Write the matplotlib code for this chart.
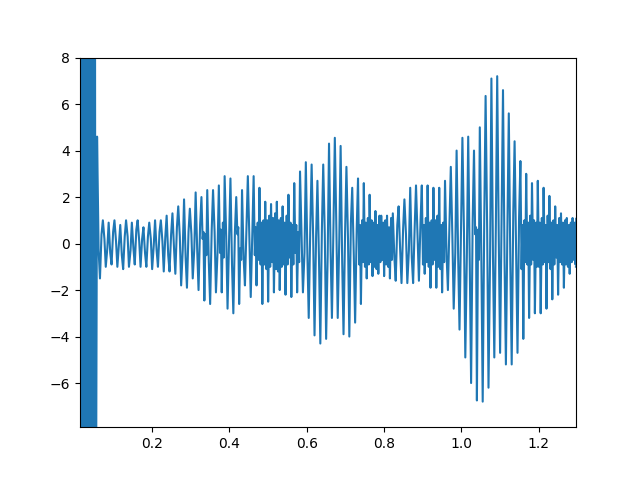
import numpy as np
import matplotlib.pyplot as plt

# start-up burst (goes far off the y range)
burst = [30, -28, 34, -31, 26, -35, 29, -27, 33, -30, 25, -32,
         31, -29, 27, -33, 30, -26, 28, -31, 24, -27, 22, -20]

# one entry per main oscillation cycle
peaks = [4.6, 1.0, 0.9, 1.0, 0.8, 1.0, 0.9, 1.0, 0.7, 0.9, 1.0, 1.0, 1.2,
         1.3, 1.6, 1.9, 1.5, 2.2, 2.0, 2.3, 2.3, 2.5, 2.9, 2.8, 2.0, 2.3,
         2.9, 2.9, 2.4, 1.8, 1.7, 1.8, 1.6, 2.1, 2.6, 3.1, 3.5, 3.4, 2.7,
         3.4, 4.3, 4.55, 4.2, 3.3, 2.4, 2.8, 2.6, 2.1, 1.4, 1.2, 1.2, 1.3,
         1.6, 1.9, 2.4, 2.5, 2.5, 2.5, 2.4, 2.4, 2.7, 3.3, 4.0, 4.55, 4.6,
         4.0, 5.0, 6.35, 7.1, 7.2, 6.6, 5.6, 4.4, 3.55, 3.0, 2.6, 2.7, 2.4,
         2.05, 1.6, 1.3, 1.1, 1.1]
troughs = [-1.5, -1.0, -0.9, -1.0, -1.1, -1.0, -0.9, -1.0, -1.0, -1.1, -1.0,
           -1.2, -1.2, -1.3, -1.8, -1.9, -1.5, -2.0, -2.45, -2.6, -2.1, -2.1,
           -2.8, -3.0, -2.6, -1.8, -2.3, -1.8, -2.6, -2.5, -2.1, -2.0, -2.2,
           -2.3, -2.1, -2.1, -3.2, -3.95, -4.3, -4.1, -3.2, -3.2, -3.9, -4.0,
           -3.4, -2.6, -1.5, -1.4, -1.3, -1.4, -1.5, -1.6, -1.7, -1.7, -1.7,
           -1.6, -1.3, -1.9, -1.9, -2.1, -2.0, -2.8, -3.7, -4.9, -6.0, -6.75,
           -6.8, -6.2, -4.9, -4.7, -5.2, -5.2, -4.7, -4.1, -3.2, -3.0, -3.0,
           -2.8, -2.4, -2.2, -1.9, -1.3, -0.9]
# small in-between wiggles, one pair per cycle (after peak, after trough)
wiggle_lo = [-0.3, 0.2, -0.4, 0.1, -0.5, 0.3, -0.2, 0.1, -0.4, 0.2, -0.3, 0.1,
             -0.5, -0.2, 0.3, -0.6, 0.4, -0.3, 0.2, -0.8, 0.5, -0.4, 0.3, -0.9,
             0.4, -0.6, 0.2, -0.5, -0.9, -1.1, -0.8, -1.2, -0.9, -0.6, -0.4,
             0.3, -0.5, 0.2, -0.7, 0.4, -0.3, 0.6, -0.8, 0.2, -0.5, -0.9, -1.0,
             -0.8, -1.1, -0.7, -1.0, -0.6, -0.3, 0.4, -0.6, 0.3, -0.9, -1.0,
             -0.7, -1.1, -0.5, 0.3, -0.6, 0.5, -0.9, 0.4, -0.7, 0.6, -0.5, 0.2,
             -0.8, -1.0, -0.6, -1.1, -0.9, -0.7, -1.0, -0.8, -1.1, -0.6, -0.9,
             -1.0, -0.7]
wiggle_hi = [0.4, -0.2, 0.5, 0.0, 0.3, -0.3, 0.6, 0.2, 0.3, -0.1, 0.5, 0.3,
             0.4, 0.7, -0.3, 0.5, -0.2, 0.8, 0.4, 0.6, -0.4, 0.9, 0.3, 0.5,
             -0.2, 0.7, 0.4, 0.9, 1.0, 1.2, 1.3, 1.1, 1.2, 0.8, 0.5, -0.4, 0.7,
             0.3, 0.6, -0.5, 0.8, 0.2, 0.5, 0.9, 0.6, 1.0, 1.1, 0.9, 1.2, 1.0,
             1.1, 0.8, 0.6, -0.3, 0.7, 0.9, 1.1, 1.0, 1.2, 0.9, 0.8, -0.4, 0.9,
             -0.5, 1.0, 0.6, 1.1, -0.6, 0.8, 1.2, 0.9, 1.3, 1.1, 1.0, 1.2, 0.9,
             1.1, 1.2, 1.0, 1.1, 1.0, 0.9, 1.1]
# extra fast wiggle inside a cycle (0 = none), where the band near zero is dense
dense = [0, 0, 0, 0, 0, 0, 0, 0, 0, 0, 0, 0, 0,
         0, 0, 0, 0, 0, 0.5, 0, 0, 0.6, 0, 0, 0.7, 0,
         0, 0.7, 0.9, 1.0, 1.1, 1.0, 0.9, 0.9, 0.8, 0, 0, 0, 0,
         0, 0, 0, 0, 0, 0, 0.8, 0.9, 1.0, 0.8, 0.9, 0.7, 0,
         0, 0, 0, 0, 0.8, 0.9, 1.0, 0.8, 0, 0, 0, 0, 0,
         0.7, 0, 0, 0, 0, 0, 0, 0, 0.8, 0.9, 1.0, 0.9, 0.8,
         0.9, 0.8, 0.9, 0.8, 0.9]
end_value = -1.0

t_start, t_burst_end, t_first, period, t_end = 0.0139, 0.054, 0.058, 0.01499, 1.296

# build the trace
x = list(np.linspace(t_start, t_burst_end, len(burst)))
y = list(burst)
for k, (p, tr, lo, hi, d) in enumerate(zip(peaks, troughs, wiggle_lo, wiggle_hi, dense)):
    t0 = t_first + k * period
    if d:
        x += [t0 + f * period for f in (0.0, 0.2, 0.35, 0.5, 0.7, 0.85)]
        y += [p, lo, d, tr, hi, -d]
    else:
        x += [t0 + f * period for f in (0.0, 0.27, 0.5, 0.77)]
        y += [p, lo, tr, hi]
x.append(t_end)
y.append(end_value)

plt.figure(figsize=(6.4, 4.8), dpi=100)
plt.plot(x, y)
plt.xlim(t_start, t_end)
plt.ylim(-7.9, 8)
plt.savefig("out.png")
